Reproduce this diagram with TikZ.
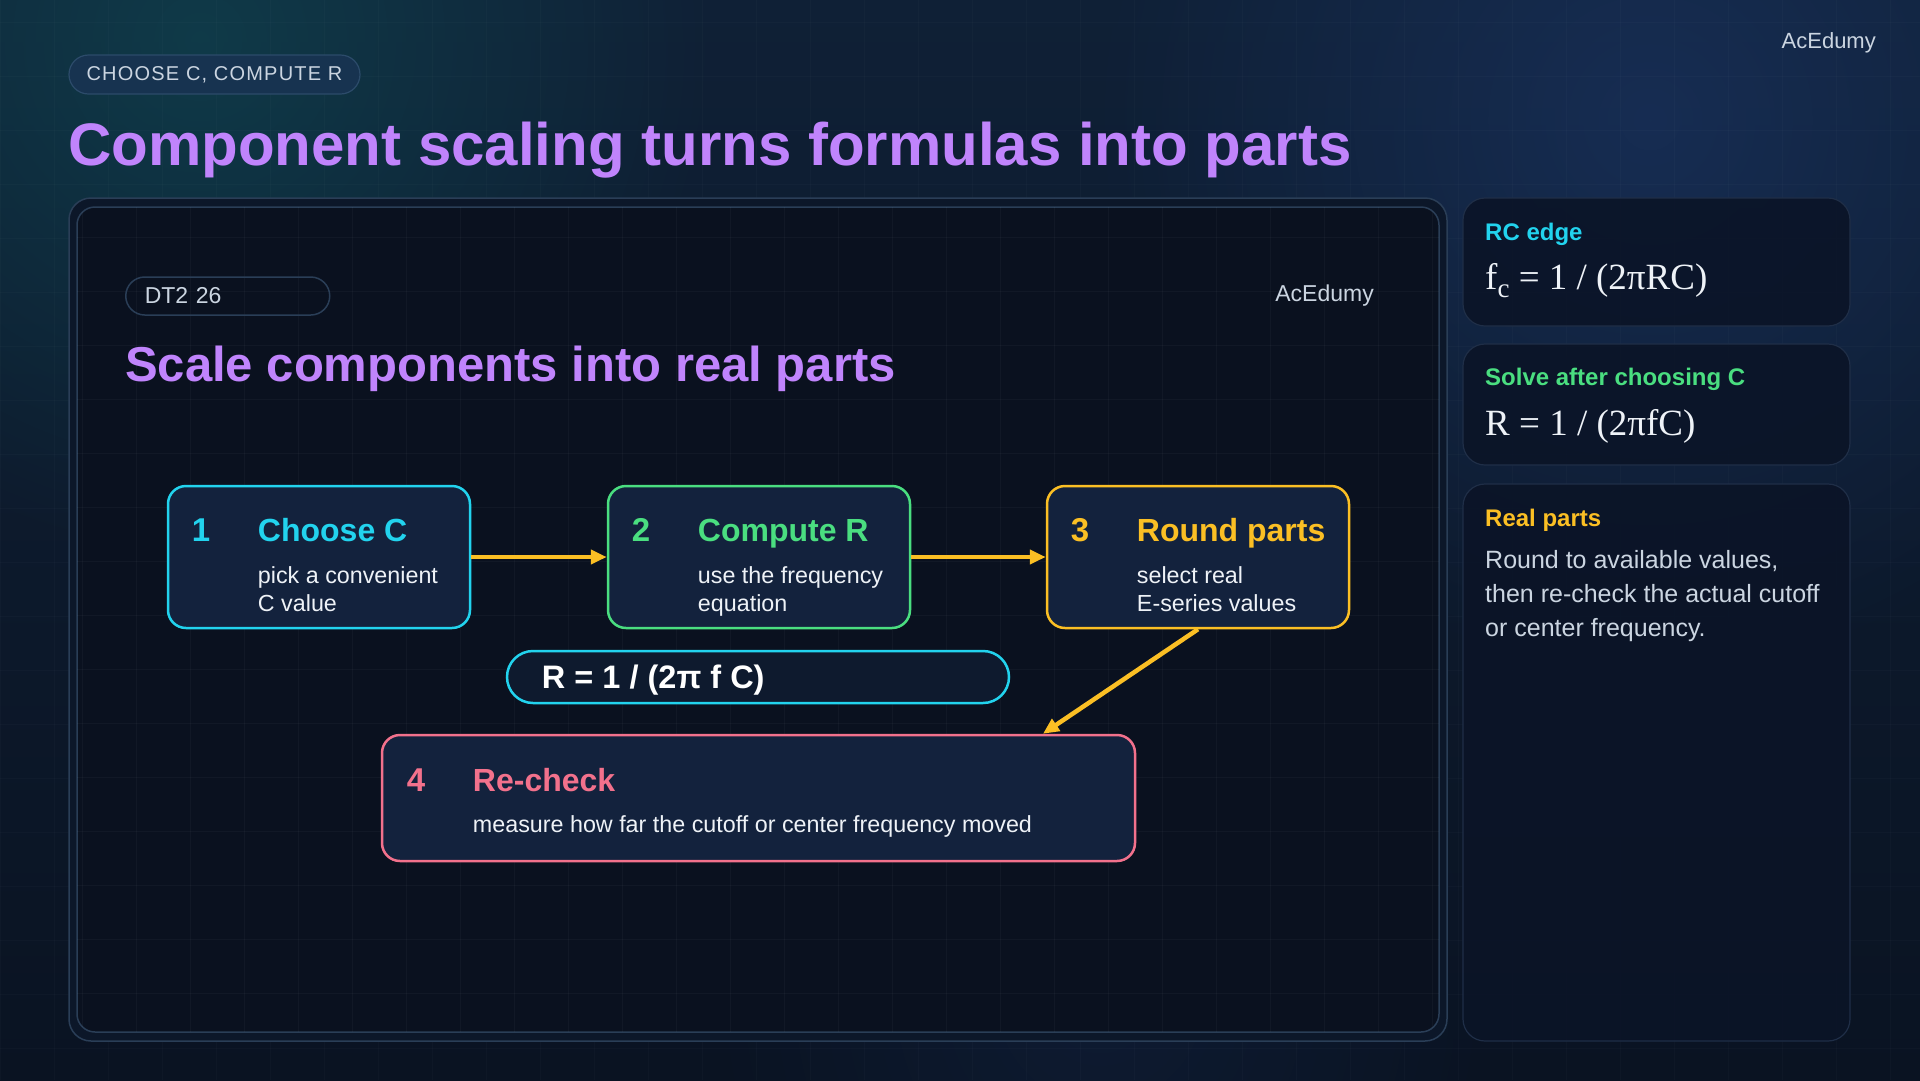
\documentclass[tikz,border=0pt]{standalone}
\usepackage{fontspec}
\setmainfont{Liberation Sans}
\newfontfamily\serifR{Liberation Serif}
\usetikzlibrary{arrows.meta,calc,fadings}
\definecolor{bgtop}{HTML}{0F2036}
\definecolor{bgbot}{HTML}{0A1322}
\definecolor{glowteal}{HTML}{0F3F4C}
\definecolor{glowblue}{HTML}{1A3360}
\definecolor{panelout}{HTML}{0C1729}
\definecolor{panelin}{HTML}{0A111F}
\definecolor{panelline}{HTML}{2A3E57}
\definecolor{cardfill}{HTML}{0B1427}
\definecolor{cardline}{HTML}{1F2E47}
\definecolor{boxfill}{HTML}{13223D}
\definecolor{fboxfill}{HTML}{0E1A2E}
\definecolor{ccyan}{HTML}{22D3EE}
\definecolor{cgreen}{HTML}{4ADE80}
\definecolor{camber}{HTML}{FBBF24}
\definecolor{cpink}{HTML}{F2718C}
\definecolor{cpurple}{HTML}{C084FC}
\definecolor{txtlight}{HTML}{CBD5E1}
\definecolor{txtwhite}{HTML}{EEF2F7}
\definecolor{pillfill}{HTML}{173350}
\definecolor{pillline}{HTML}{2C4B6A}
\tikzfading[name=glowfade, inner color=transparent!0, outer color=transparent!100]
\newcommand\fsz[2]{\fontsize{#1}{#2}\selectfont}
\tikzset{
  txt/.style={inner sep=0pt, anchor=base west},
  stepbox/.style={draw=#1, line width=2.5pt, fill=boxfill, rounded corners=18pt,
    minimum width=302pt, minimum height=142pt, inner sep=0pt},
  numtxt/.style={txt, font=\fsz{33}{38}\bfseries, text=#1},
  headtxt/.style={txt, font=\fsz{32}{38}\bfseries, text=#1},
  bodytxt/.style={txt, font=\fsz{23.3}{28}, text=txtwhite},
  flow/.style={draw=camber, line width=4.5pt, -{Triangle[length=16pt,width=14pt]}},
  card/.style={draw=cardline, line width=1.2pt, fill=cardfill, fill opacity=0.9, rounded corners=22pt},
  cardhead/.style={txt, font=\fsz{24}{29}\bfseries, text=#1},
  cardform/.style={txt, font=\serifR\fsz{37}{44}, text=txtwhite},
  cardbody/.style={txt, font=\fsz{25}{34}, text=txtlight},
  gridline/.style={white, opacity=0.03, line width=0.8pt},
}
\begin{document}
\begin{tikzpicture}[x=1pt,y=-1pt]
\useasboundingbox (0,0) rectangle (1920,1080);
% background
\shade[top color=bgtop, bottom color=bgbot] (0,0) rectangle (1920,1080);
\fill[glowteal, path fading=glowfade, opacity=0.85] (200,40) circle (520);
\fill[glowblue, path fading=glowfade, opacity=0.7] (1650,120) circle (560);
\fill[glowblue, path fading=glowfade, opacity=0.25] (1100,1000) circle (400);
% faint outer grid
\foreach \gx in {0,54,...,1920} \draw[gridline, opacity=0.02] (\gx,0) -- (\gx,1080);
\foreach \gy in {22,76,...,1080} \draw[gridline, opacity=0.02] (0,\gy) -- (1920,\gy);

% top tag
\node[draw=pillline, line width=1.2pt, fill=pillfill, rounded corners=19.5pt,
  minimum width=291pt, minimum height=39pt, inner sep=0pt,
  font=\fsz{20}{24}\addfontfeature{LetterSpace=6}, text=txtlight] (tag) at (214.5,74.5) {CHOOSE C, COMPUTE R};
\node[txt, font=\fsz{60}{70}\bfseries, text=cpurple] (title) at (68,165) {Component scaling turns formulas into parts};
\node[inner sep=0pt, anchor=base east, font=\fsz{22}{26}, text=txtlight] (brand) at (1876,48) {AcEdumy};

% main panel
\draw[draw=panelline, line width=1.5pt, fill=panelout, rounded corners=22pt] (69,198) rectangle (1447,1041);
\draw[draw=panelline, line width=1.5pt, fill=panelin, rounded corners=18pt] (77,207) rectangle (1439,1032);
\begin{scope}
\clip[rounded corners=18pt] (77,207) rectangle (1439,1032);
\foreach \gx in {82,136,...,1439} \draw[gridline] (\gx,207) -- (\gx,1032);
\foreach \gy in {237,291,...,1032} \draw[gridline] (77,\gy) -- (1439,\gy);
\end{scope}

\node[draw=panelline, line width=1.5pt, rounded corners=19pt, minimum height=38pt,
  text width=166pt, inner xsep=19pt, inner ysep=0pt, align=left, anchor=west,
  font=\fsz{23}{28}, text=txtlight] (dt) at (125,296) {DT2 26};
\node[inner sep=0pt, anchor=base east, font=\fsz{23}{28}, text=txtlight] (brand2) at (1374,301) {AcEdumy};
\node[txt, font=\fsz{49}{58}\bfseries, text=cpurple] (sub) at (125,381) {Scale components into real parts};

% step boxes
\node[stepbox=ccyan] (b1) at (319,557) {};
\node[stepbox=cgreen] (b2) at (759,557) {};
\node[stepbox=camber] (b3) at (1198,557) {};
\node[stepbox=cpink, minimum width=753pt, minimum height=126pt] (b4) at (758.5,798) {};
\node[draw=ccyan, line width=2.5pt, fill=fboxfill, rounded corners=26pt,
  minimum width=502pt, minimum height=52pt, inner sep=0pt] (fb) at (758,677) {};

\node[numtxt=ccyan] (n1) at ($(b1.north west)+(25,57)$) {1};
\node[headtxt=ccyan] (h1) at ($(b1.north west)+(91,57)$) {Choose C};
\node[bodytxt] (t1a) at ($(b1.north west)+(91,99)$) {pick a convenient};
\node[bodytxt] (t1b) at ($(b1.north west)+(91,127)$) {C value};

\node[numtxt=cgreen] (n2) at ($(b2.north west)+(25,57)$) {2};
\node[headtxt=cgreen] (h2) at ($(b2.north west)+(91,57)$) {Compute R};
\node[bodytxt] (t2a) at ($(b2.north west)+(91,99)$) {use the frequency};
\node[bodytxt] (t2b) at ($(b2.north west)+(91,127)$) {equation};

\node[numtxt=camber] (n3) at ($(b3.north west)+(25,57)$) {3};
\node[headtxt=camber] (h3) at ($(b3.north west)+(91,57)$) {Round parts};
\node[bodytxt] (t3a) at ($(b3.north west)+(91,99)$) {select real};
\node[bodytxt] (t3b) at ($(b3.north west)+(91,127)$) {E-series values};

\node[numtxt=cpink] (n4) at ($(b4.north west)+(26,58)$) {4};
\node[headtxt=cpink] (h4) at ($(b4.north west)+(92,58)$) {Re-check};
\node[bodytxt] (t4a) at ($(b4.north west)+(92,99)$) {measure how far the cutoff or center frequency moved};

\node[txt, font=\fsz{32.5}{38}\bfseries, text=white] (ft) at ($(fb.north west)+(36,39)$) {R = 1 / (2π f C)};

% connectors
\draw[flow] (b1.east) -- (b2.west);
\draw[flow] (b2.east) -- (b3.west);
\draw[flow] (b3.south) -- ($(b4.north west)!0.8765!(b4.north east)$);

% right cards
\draw[card] (1463,198) rectangle (1850,326);
\draw[card] (1463,344) rectangle (1850,465);
\draw[card] (1463,484) rectangle (1850,1041);
\node[cardhead=ccyan] (c1h) at (1485,240) {RC edge};
\node[cardform] (c1f) at (1485,289) {f\raisebox{-8pt}{\fsz{27}{30}c} = 1 / (2πRC)};
\node[cardhead=cgreen] (c2h) at (1485,385) {Solve after choosing C};
\node[cardform] (c2f) at (1485,435) {R = 1 / (2πfC)};
\node[cardhead=camber] (c3h) at (1485,526) {Real parts};
\node[cardbody] (c3a) at (1485,568) {Round to available values,};
\node[cardbody] (c3b) at (1485,602) {then re-check the actual cutoff};
\node[cardbody] (c3c) at (1485,636) {or center frequency.};
\end{tikzpicture}
\end{document}
